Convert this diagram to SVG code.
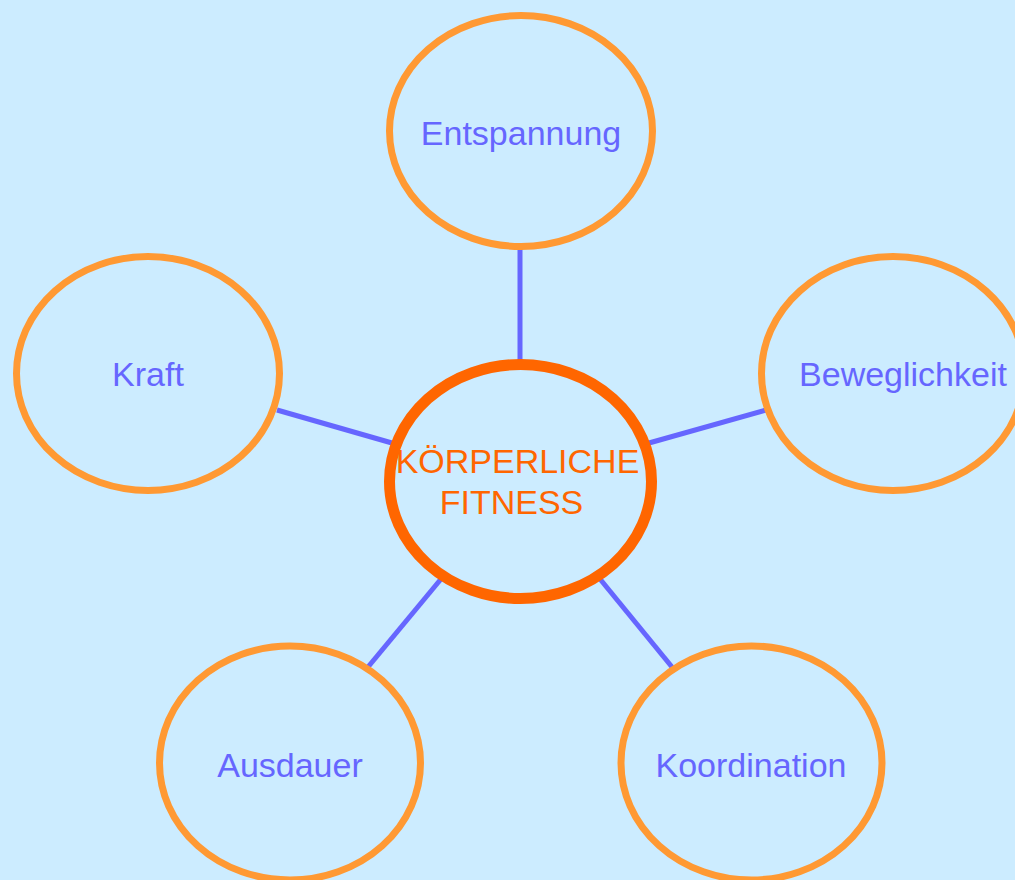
<svg xmlns="http://www.w3.org/2000/svg" width="1015" height="880" viewBox="0 0 1015 880">
<style>
.node{fill:#CCECFF;stroke:#FF9933;stroke-width:7}
.hub{fill:#CCECFF;stroke:#FF6600;stroke-width:11}
.lbl{font-family:"Liberation Sans",Arial,sans-serif;font-size:34px;fill:#6666FF;text-anchor:middle}
.hubl{font-family:"Liberation Sans",Arial,sans-serif;font-size:34px;fill:#FF6600;text-anchor:middle}
.conn line{stroke:#6666FF;stroke-width:5}
</style>
<rect width="1015" height="880" fill="#CCECFF"/>
<g id="connectors" class="conn">
<line x1="520" y1="248" x2="520" y2="362"/>
<line x1="277" y1="410" x2="392" y2="443"/>
<line x1="649" y1="443" x2="766" y2="410"/>
<line x1="441" y1="579" x2="368" y2="667"/>
<line x1="600" y1="579" x2="672" y2="667"/>
</g>
<g id="entspannung">
<ellipse class="node" cx="521" cy="131" rx="131.5" ry="115.5"/>
<text class="lbl" x="521" y="145">Entspannung</text>
</g>
<g id="kraft">
<ellipse class="node" cx="148" cy="373.5" rx="131.5" ry="117"/>
<text class="lbl" x="148" y="386">Kraft</text>
</g>
<g id="beweglichkeit">
<ellipse class="node" cx="893" cy="373.5" rx="131.5" ry="117"/>
<text class="lbl" x="903" y="386">Beweglichkeit</text>
</g>
<g id="ausdauer">
<ellipse class="node" cx="290" cy="763" rx="130.5" ry="117"/>
<text class="lbl" x="290" y="777">Ausdauer</text>
</g>
<g id="koordination">
<ellipse class="node" cx="751.5" cy="763" rx="130.5" ry="117"/>
<text class="lbl" x="751" y="777">Koordination</text>
</g>
<g id="fitness">
<ellipse class="hub" cx="520.5" cy="481.5" rx="131" ry="117"/>
<text class="hubl" x="517.5" y="473">KÖRPERLICHE</text>
<text class="hubl" x="511.5" y="514">FITNESS</text>
</g>
</svg>
